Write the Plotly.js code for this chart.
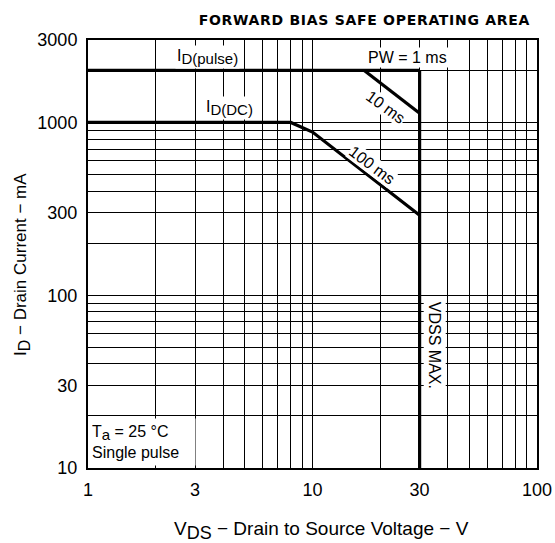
<!DOCTYPE html>
<html>
<head>
<meta charset="utf-8">
<script src="https://cdn.plot.ly/plotly-3.0.1.min.js"></script>
<style>html,body{margin:0;padding:0;background:#fff;}#chart{width:555px;height:543px;}</style>
</head>
<body>
<div id="chart"></div>
<script>
// Data (V in volts, I in mA)
const pulseX = [1, 30];
const pulseY = [2000, 2000];
const pw10X = [17, 30];
const pw10Y = [2000, 1130];
const dcX = [1, 8, 10, 30];
const dcY = [1000, 1000, 880, 290];
const vdssX = [30, 30];
const vdssY = [10, 2000];

const xTickVals = [1,2,3,4,5,6,7,8,9,10,20,30,40,50,60,70,80,90,100];
const xTickText = ['1','','3','','','','','','','10','','30','','','','','','','100'];
const yTickVals = [10,20,30,40,50,60,70,80,90,100,200,300,400,500,600,700,800,900,1000,2000,3000];
const yTickText = ['10','','30','','','','','','','100','','300','','','','','','','1000','','3000'];

const FONT = 'Liberation Sans, Arial, sans-serif';
const lineStyle = {color: '#000', width: 3.2};

const traces = [
  {x: pulseX, y: pulseY, mode: 'lines', line: lineStyle, hoverinfo: 'skip'},
  {x: pw10X, y: pw10Y, mode: 'lines', line: lineStyle, hoverinfo: 'skip'},
  {x: dcX, y: dcY, mode: 'lines', line: lineStyle, hoverinfo: 'skip'},
  {x: vdssX, y: vdssY, mode: 'lines', line: lineStyle, hoverinfo: 'skip'}
];

const annFont = {family: FONT, size: 16, color: '#000'};
const sub = (t, s) => '<sub><span style="font-size:' + s + 'px">' + t + '</span></sub>';
const annotations = [
  {x: Math.log10(3.4), y: Math.log10(2390), text: 'I' + sub('D(pulse)', 15), showarrow: false, bgcolor: '#fff', font: annFont, borderpad: 1},
  {x: Math.log10(26.4), y: Math.log10(2390), text: 'PW = 1 ms', showarrow: false, bgcolor: '#fff', font: annFont, borderpad: 1},
  {x: Math.log10(4.25), y: Math.log10(1212), text: 'I' + sub('D(DC)', 15), showarrow: false, bgcolor: '#fff', font: annFont, borderpad: 1},
  {x: Math.log10(21.3), y: Math.log10(1228), text: '10 ms', textangle: 36, showarrow: false, bgcolor: '#fff', font: annFont, borderpad: 0},
  {x: Math.log10(18.5), y: Math.log10(567), text: '100 ms', textangle: 37, showarrow: false, bgcolor: '#fff', font: annFont, borderpad: 0},
  {x: Math.log10(35.2), y: Math.log10(51.5), text: 'VDSS MAX.', textangle: 90, showarrow: false, bgcolor: '#fff', font: annFont, borderpad: 2},
  {x: 0, xref: 'paper', y: Math.log10(10), xanchor: 'left', yanchor: 'bottom', align: 'left', valign: 'middle', xshift: 2, yshift: 2,
   width: 102, height: 44,
   text: 'T' + sub('a', 15) + ' = 25 °C<br>Single pulse', showarrow: false, bgcolor: '#fff', font: annFont, borderpad: 1},
  // y-axis title
  {x: 0, xref: 'paper', xshift: -66, xanchor: 'center', yanchor: 'middle', y: (468 - 265) / 428, yref: 'paper', textangle: -90, showarrow: false,
   text: 'I' + sub('D', 16) + ' − Drain Current − mA', font: {family: FONT, size: 17, color: '#000'}},
  // x-axis title
  {x: (322 - 88) / 450, xref: 'paper', y: 0, yref: 'paper', yshift: -62, xanchor: 'center', yanchor: 'middle', showarrow: false,
   text: 'V' + sub('DS', 18) + ' − Drain to Source Voltage − V', font: {family: FONT, size: 19, color: '#000'}}
];

const layout = {
  width: 555, height: 543,
  margin: {l: 88, r: 18, t: 40, b: 75},
  paper_bgcolor: '#fff', plot_bgcolor: '#fff',
  showlegend: false,
  font: {family: FONT, size: 18, color: '#000'},
  title: {text: '<b><span style="letter-spacing:0.7px">FORWARD BIAS SAFE OPERATING AREA</span></b>', font: {family: 'DejaVu Sans, sans-serif', size: 14, color: '#000'},
          x: 530/555, xanchor: 'right', xref: 'container', y: 1 - 20/543, yanchor: 'middle', yref: 'container'},
  xaxis: {
    type: 'log', range: [0, 2], tickvals: xTickVals, ticktext: xTickText,
    showgrid: true, gridcolor: '#000', gridwidth: 1, zeroline: false,
    showline: true, linecolor: '#000', linewidth: 2, mirror: true, ticks: '',
    tickfont: {family: FONT, size: 18}, ticklabelstandoff: 4
  },
  yaxis: {
    type: 'log', range: [1, Math.log10(3000)], tickvals: yTickVals, ticktext: yTickText,
    showgrid: true, gridcolor: '#000', gridwidth: 1, zeroline: false,
    showline: true, linecolor: '#000', linewidth: 2, mirror: true, ticks: '',
    tickfont: {family: FONT, size: 18}, ticklabelstandoff: 5
  },
  annotations: annotations
};

Plotly.newPlot('chart', traces, layout, {displayModeBar: false, staticPlot: true});
</script>
</body>
</html>
